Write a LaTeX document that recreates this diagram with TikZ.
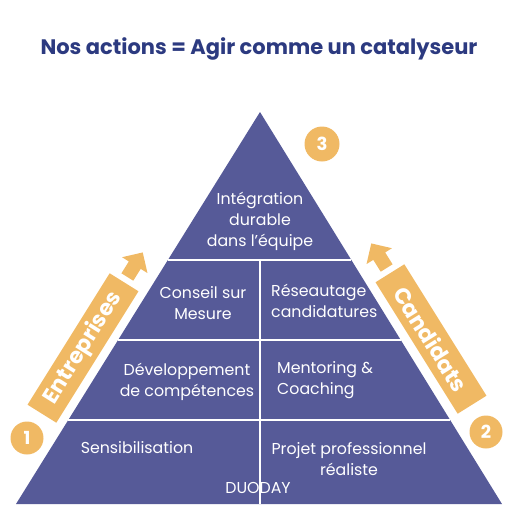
\documentclass[tikz,border=0pt]{standalone}
\usepackage{fontspec}
\setmainfont{Poppins}
\usetikzlibrary{calc}
\definecolor{pyr}{RGB}{86,90,152}
\definecolor{org}{RGB}{240,185,100}
\definecolor{ttl}{RGB}{44,58,128}
\begin{document}
\begin{tikzpicture}[x=1pt,y=-1pt,
  lbl/.style={text=white,font=\fontsize{15.8}{21}\selectfont,align=center,inner sep=0pt},
  lbll/.style={lbl,align=left,anchor=west},
  band/.style={fill=org,text=white,font=\fontsize{22}{22}\bfseries\selectfont,inner sep=0pt,minimum height=34pt},
  numc/.style={circle,fill=org,text=white,minimum size=33pt,inner sep=0pt,font=\fontsize{18}{18}\bfseries\selectfont},
  divl/.style={draw=white,line width=1.6pt},
  arr/.style={fill=org}]
\useasboundingbox (0,0) rectangle (520,520);
\node[font=\fontsize{21}{24}\bfseries\selectfont,text=ttl] (title) at (259,49) {Nos actions = Agir comme un catalyseur};
% pyramid
\coordinate (apex) at (260,112);
\coordinate (bl) at (16,504);
\coordinate (br) at (502,504);
\fill[pyr] (apex) -- (bl) -- (br) -- cycle;
\coordinate (l1) at ($(apex)!0.3776!(bl)$);
\coordinate (r1) at ($(apex)!0.3776!(br)$);
\coordinate (l2) at ($(apex)!0.5816!(bl)$);
\coordinate (r2) at ($(apex)!0.5816!(br)$);
\coordinate (l3) at ($(apex)!0.7857!(bl)$);
\coordinate (r3) at ($(apex)!0.7857!(br)$);
\coordinate (m1) at (260,260);
\coordinate (mb) at (260,504);
\draw[divl] (l1) -- (r1);
\draw[divl] (l2) -- (r2);
\draw[divl] (l3) -- (r3);
\draw[divl] (m1) -- (mb);
% labels
\node[lbl] (integ) at (260,221) {Intégration\\durable\\dans l'équipe};
\node[lbl] (conseil) at (203,303) {Conseil sur\\Mesure};
\node[lbll] (reseau) at (271,301) {Réseautage\\candidatures};
\node[lbl] (dev) at (187,382) {Développement\\de compétences};
\node[lbll] (mentor) at (277,380) {Mentoring \&\\Coaching};
\node[lbl] (sensi) at (137,448) {Sensibilisation};
\node[lbl] (projet) at (349,459) {Projet professionnel\\réaliste};
\node[lbl] (duo) at (258,488) {DUODAY};
% bands
\node[band,rotate=58,minimum width=155pt] (ent) at (83,348) {Entreprises};
\begin{scope}[shift={(ent.east)},rotate=58]
  \fill[arr] (6,-7) -- (20,-7) -- (20,-15) -- (35,0) -- (20,15) -- (20,7) -- (6,7) -- cycle;
\end{scope}
\node[band,rotate=-58,minimum width=155pt] (cand) at (431,339) {Candidats};
\begin{scope}[shift={(cand.west)},rotate=122]
  \fill[arr] (6,-7) -- (20,-7) -- (20,-15) -- (35,0) -- (20,15) -- (20,7) -- (6,7) -- cycle;
\end{scope}
% circles
\node[numc] (c1) at (27,438) {1};
\node[numc] (c2) at (486,432) {2};
\node[numc,minimum size=35pt] (c3) at (322,144) {3};
\end{tikzpicture}
\end{document}
